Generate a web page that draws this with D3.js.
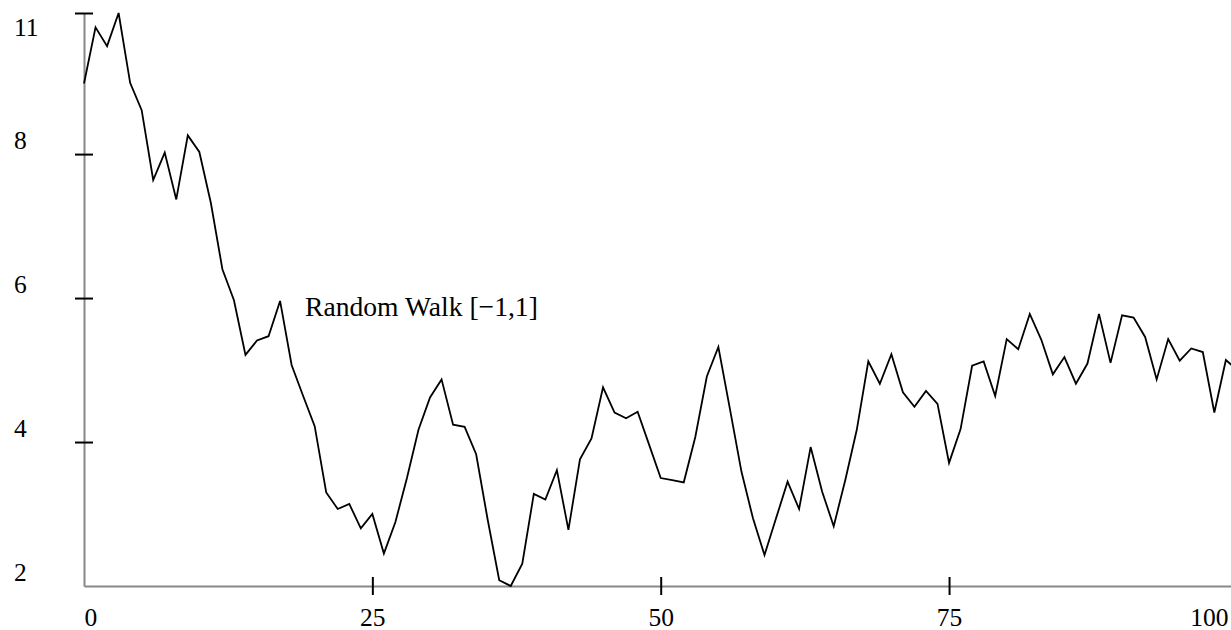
<!DOCTYPE html>
<meta charset="utf-8">
<style>
body { margin: 0; background: #fff; }
.line { fill: none; stroke: #000; stroke-width: 1.8px; stroke-linejoin: miter; }
.axis .domain { stroke: #888; stroke-width: 2px; }
.axis .tick line { stroke: #000; stroke-width: 2px; }
</style>
<body>
<script src="https://cdn.jsdelivr.net/npm/d3@7"></script>
<script>

// random walk values, one per step 0..100
var steps = d3.range(0, 101);
var walk = [
  8.98, 9.76, 9.50, 9.96, 8.99, 8.61, 7.64, 8.02, 7.37, 8.26,
  8.03, 7.32, 6.40, 5.97, 5.21, 5.41, 5.47, 5.96, 5.07, 4.64,
  4.22, 3.30, 3.07, 3.14, 2.80, 3.00, 2.45, 2.89, 3.50, 4.17,
  4.62, 4.87, 4.24, 4.21, 3.83, 2.92, 2.08, 2.00, 2.31, 3.28,
  3.20, 3.61, 2.78, 3.76, 4.05, 4.76, 4.41, 4.33, 4.42, 3.96,
  3.50, 3.47, 3.44, 4.07, 4.91, 5.32, 4.46, 3.59, 2.94, 2.43,
  2.94, 3.45, 3.07, 3.93, 3.31, 2.83, 3.47, 4.17, 5.12, 4.81,
  5.22, 4.69, 4.49, 4.71, 4.53, 3.71, 4.18, 5.06, 5.12, 4.64,
  5.43, 5.29, 5.78, 5.42, 4.94, 5.18, 4.81, 5.09, 5.78, 5.10,
  5.76, 5.73, 5.46, 4.87, 5.43, 5.13, 5.30, 5.25, 4.41, 5.14,
  5.00
];
var seriesName = "Random Walk [\u22121,1]";
var labelStep = 17;

var xTicks = [0, 25, 50, 75, 100];
var xTickLabels = ["0", "25", "50", "75", "100"];
var yTickLabels = ["2", "4", "6", "8", "11"];

var serif = "'Liberation Serif', 'Times New Roman', Times, serif";

var width = 1231, height = 630;
var yMax = d3.max(walk), yMin = d3.min(walk);
var yTicks = [yMin, 4, 6, 8, yMax];

var x = d3.scaleLinear().domain([0, 100]).range([84, 1237.4]);
var y = d3.scaleLinear().domain([yMin, yMax]).range([586, 13]);

var svg = d3.select("body").append("svg")
    .attr("width", width)
    .attr("height", height);

// x axis
var gx = svg.append("g")
    .attr("class", "axis")
    .attr("transform", "translate(0,586)")
    .call(d3.axisBottom(x).tickValues(xTicks).tickSizeOuter(0)
      .tickFormat(function(d, i) { return xTickLabels[i]; }));

gx.selectAll(".tick line")
    .attr("y1", -9).attr("y2", 9)
    .style("display", function(d, i) { return (i == 0 || i == xTicks.length - 1) ? "none" : null; });
gx.selectAll(".tick text")
    .attr("y", 40).attr("dy", 0)
    .attr("text-anchor", function(d, i) { return i == 0 ? "start" : (i == xTicks.length - 1 ? "end" : "middle"); })
    .attr("x", function(d, i) { return i == xTicks.length - 1 ? (1228 - x(d)) : 0; });

// y axis
var gy = svg.append("g")
    .attr("class", "axis")
    .attr("transform", "translate(84,0)")
    .call(d3.axisLeft(y).tickValues(yTicks).tickSizeOuter(0)
      .tickFormat(function(d, i) { return yTickLabels[i]; }));

gy.selectAll(".tick line")
    .attr("x1", -9).attr("x2", 9)
    .style("display", function(d, i) { return i == 0 ? "none" : null; });
gy.selectAll(".tick text")
    .attr("text-anchor", "start")
    .attr("x", -70)
    .attr("dy", 0)
    .attr("y", function(d, i) { return i == yTicks.length - 1 ? 22 : -6; });

svg.selectAll(".axis")
    .attr("font-family", serif)
    .attr("font-size", 25);
svg.selectAll(".axis .tick text")
    .style("font-family", serif)
    .style("font-size", "25.5px")
    .attr("fill", "#000");

// the walk
var line = d3.line()
    .x(function(d, i) { return x(steps[i]); })
    .y(function(d) { return y(d); });

svg.append("path")
    .datum(walk)
    .attr("class", "line")
    .attr("d", line);

// series label next to its peak
svg.append("text")
    .attr("x", x(labelStep) + 25)
    .attr("y", y(walk[labelStep]) + 15)
    .style("font-family", serif)
    .style("font-size", "27.6px")
    .text(seriesName);

</script>
</body>
